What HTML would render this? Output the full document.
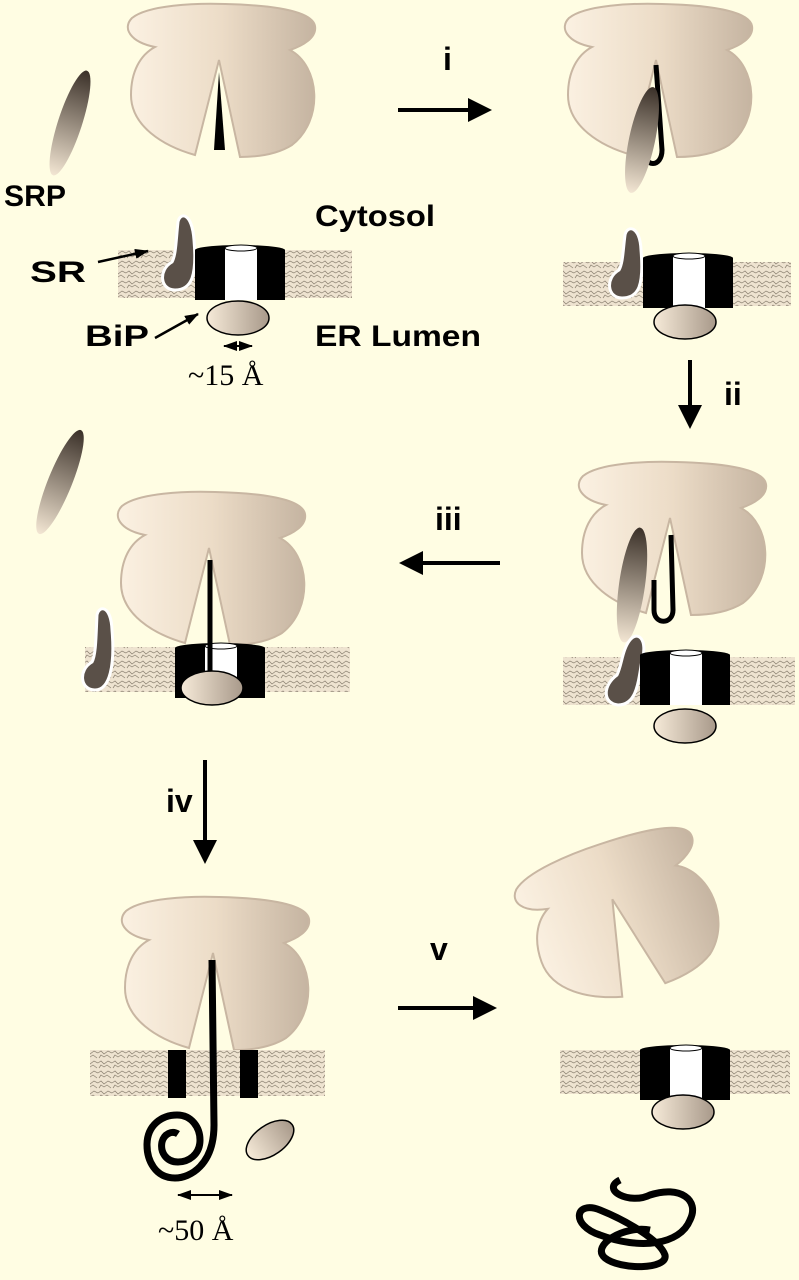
<!DOCTYPE html>
<html><head><meta charset="utf-8"><style>
html,body{margin:0;padding:0;background:#FFFDE3;}
svg{display:block;}
text{font-family:"Liberation Sans",sans-serif;font-weight:bold;fill:#000;}
.serif{font-family:"Liberation Serif",serif;font-weight:normal;}
</style></head><body>
<svg width="799" height="1280" viewBox="0 0 799 1280" xmlns="http://www.w3.org/2000/svg">
<defs>
<linearGradient id="rib" x1="0" x2="1" y1="0" y2="0"><stop offset="0" stop-color="#fbf1e2"/><stop offset="0.5" stop-color="#ecdcc7"/><stop offset="1" stop-color="#c5b4a1"/></linearGradient>
<linearGradient id="srp" x1="0" x2="1" y1="0" y2="0"><stop offset="0" stop-color="#f3e6d3"/><stop offset="1" stop-color="#3a3028"/></linearGradient>
<linearGradient id="bip" x1="0" x2="1" y1="0" y2="0"><stop offset="0" stop-color="#f6ead8"/><stop offset="1" stop-color="#a8998a"/></linearGradient>
<pattern id="mem" width="14" height="10" patternUnits="userSpaceOnUse">
<rect width="14" height="10" fill="#eee3d0"/>
<path d="M0,3 l3,-2 l3,3 l4,-3 l4,2 M1,8 l2,-3 l3,2 l3,-2 l4,3" stroke="#8a8070" stroke-width="0.7" fill="none"/>
</pattern>
<path id="ribo" d="M155,47 C130,42 122,28 132,18 C148,5 195,3 225,4 C268,5 312,10 315,26 C317,38 302,46 290,50 C320,66 324,120 292,145 C276,155 256,157 240,157 L219,60 L195,155 C163,146 131,126 131,95 C131,72 140,55 155,47 Z" fill="url(#rib)" stroke="#c8b6a2" stroke-width="2"/>
<g id="chan">
<rect x="0" y="0" width="90" height="50" fill="#000"/>
<ellipse cx="45" cy="0" rx="45" ry="5" fill="#000"/>
<rect x="30" y="-2" width="32" height="52" fill="#fff"/>
<ellipse cx="46" cy="-2" rx="16" ry="3" fill="#fff" stroke="#000" stroke-width="1"/>
</g>
<g id="bipe"><ellipse cx="0" cy="0" rx="31" ry="17" fill="url(#bip)" stroke="#000" stroke-width="1.5"/></g>
<marker id="ah" markerWidth="6" markerHeight="6" refX="5" refY="3" orient="auto" markerUnits="strokeWidth"><path d="M0,0 L6,3 L0,6 Z" fill="#000"/></marker>
<marker id="ah2" markerWidth="14" markerHeight="10" refX="13" refY="5" orient="auto-start-reverse" markerUnits="userSpaceOnUse"><path d="M0,0 L14,5 L0,10 Z" fill="#000"/></marker>
</defs>

<!-- Panel 1 -->
<use href="#ribo"/>
<path d="M219,72 L214,150 L225,150 Z" fill="#000"/>
<ellipse cx="70" cy="123" rx="55" ry="12" transform="rotate(-72 70 123)" fill="url(#srp)"/>
<rect x="118" y="250" width="234" height="48" fill="url(#mem)"/>
<path d="M178,222 C180,212 192,212 194,240 C197,275 192,290 175,290 C160,290 158,270 172,262 C176,255 176,240 178,222 Z" fill="#5a5048" stroke="#fff" stroke-width="3"/>
<use href="#chan" x="195" y="250"/>
<use href="#bipe" x="238" y="318"/>
<line x1="98" y1="262" x2="148" y2="251" stroke="#000" stroke-width="2.5" marker-end="url(#ah2)"/>
<line x1="155" y1="338" x2="198" y2="314" stroke="#000" stroke-width="2.5" marker-end="url(#ah2)"/>
<line x1="224" y1="346" x2="252" y2="346" stroke="#000" stroke-width="2" marker-end="url(#ah2)" marker-start="url(#ah2)"/>
<text x="4" y="206" font-size="30" textLength="62" lengthAdjust="spacingAndGlyphs">SRP</text>
<text x="315" y="226" font-size="30" textLength="120" lengthAdjust="spacingAndGlyphs">Cytosol</text>
<text x="30" y="282" font-size="30" textLength="56" lengthAdjust="spacingAndGlyphs">SR</text>
<text x="85" y="346" font-size="30" textLength="64" lengthAdjust="spacingAndGlyphs">BiP</text>
<text x="315" y="346" font-size="30" textLength="166" lengthAdjust="spacingAndGlyphs">ER Lumen</text>
<text x="188" y="385" font-size="30" class="serif">~15 Å</text>

<!-- arrow i -->
<text x="443" y="70" font-size="32">i</text>
<line x1="398" y1="110" x2="488" y2="110" stroke="#000" stroke-width="4" marker-end="url(#ah)"/>

<!-- Panel 2 -->
<use href="#ribo" x="437" y="0"/>
<path d="M656,65 L662,150 C662,168 644,168 644,150 L644,120" fill="none" stroke="#000" stroke-width="5"/>
<ellipse cx="642" cy="140" rx="54" ry="13" transform="rotate(-78 642 140)" fill="url(#srp)"/>
<rect x="563" y="262" width="228" height="44" fill="url(#mem)"/>
<path d="M625,235 C627,225 640,225 641,250 C644,285 639,298 622,298 C607,298 605,278 619,270 C623,263 623,250 625,235 Z" fill="#5a5048" stroke="#fff" stroke-width="3"/>
<use href="#chan" x="643" y="258"/>
<use href="#bipe" x="685" y="322"/>

<!-- arrow ii -->
<line x1="690" y1="360" x2="690" y2="425" stroke="#000" stroke-width="4" marker-end="url(#ah)"/>
<text x="724" y="405" font-size="32">ii</text>

<!-- Panel 3 -->
<use href="#ribo" x="451" y="458"/>
<path d="M671,535 L673,610 C673,625 654,625 654,610 L654,580" fill="none" stroke="#000" stroke-width="5"/>
<ellipse cx="632" cy="585" rx="58" ry="13" transform="rotate(-82 632 585)" fill="url(#srp)"/>
<rect x="563" y="657" width="232" height="48" fill="url(#mem)"/>
<path d="M630,640 C638,630 648,640 642,660 C638,685 636,705 618,705 C602,703 603,685 617,675 C622,665 622,650 630,640 Z" fill="#5a5048" stroke="#fff" stroke-width="3"/>
<use href="#chan" x="640" y="655"/>
<use href="#bipe" x="685" y="726"/>

<!-- arrow iii -->
<text x="435" y="530" font-size="32">iii</text>
<line x1="500" y1="563" x2="403" y2="563" stroke="#000" stroke-width="4" marker-end="url(#ah)"/>

<!-- Panel 4 -->
<use href="#ribo" x="-10" y="488"/>
<ellipse cx="60" cy="482" rx="56" ry="12" transform="rotate(-68 60 482)" fill="url(#srp)"/>
<rect x="85" y="647" width="265" height="45" fill="url(#mem)"/>
<path d="M97,615 C99,605 111,605 112,630 C115,665 110,690 95,690 C80,690 78,670 92,662 C96,655 96,635 97,615 Z" fill="#5a5048" stroke="#fff" stroke-width="3"/>
<use href="#chan" x="175" y="648"/>
<path d="M210,560 L210,680 C210,695 196,695 196,680 L196,660" fill="none" stroke="#000" stroke-width="5"/>
<use href="#bipe" x="212" y="688"/>

<!-- arrow iv -->
<line x1="205" y1="760" x2="205" y2="860" stroke="#000" stroke-width="4" marker-end="url(#ah)"/>
<text x="166" y="812" font-size="32">iv</text>

<!-- Panel 5 -->
<use href="#ribo" x="-6" y="893"/>
<rect x="90" y="1050" width="235" height="46" fill="url(#mem)"/>
<rect x="168" y="1050" width="18" height="48" fill="#000"/>
<rect x="240" y="1050" width="18" height="48" fill="#000"/>
<path d="M212,960 L214,1125 C214,1165 190,1178 175,1178 C155,1178 147,1160 147,1145 C147,1125 162,1115 177,1115 C192,1115 200,1128 200,1140 C200,1155 188,1162 178,1162 C166,1162 160,1152 162,1142 C164,1134 172,1130 178,1134" fill="none" stroke="#000" stroke-width="7"/>
<ellipse cx="270" cy="1140" rx="27" ry="15" transform="rotate(-35 270 1140)" fill="url(#bip)" stroke="#000" stroke-width="1.5"/>
<line x1="178" y1="1195" x2="232" y2="1195" stroke="#000" stroke-width="2" marker-end="url(#ah2)" marker-start="url(#ah2)"/>
<text x="158" y="1240" font-size="30" class="serif">~50 Å</text>

<!-- arrow v -->
<text x="430" y="960" font-size="32">v</text>
<line x1="398" y1="1008" x2="493" y2="1008" stroke="#000" stroke-width="4" marker-end="url(#ah)"/>

<!-- Panel 6 -->
<use href="#ribo" transform="translate(622,917) rotate(-20) translate(-222,-80)"/>
<rect x="560" y="1050" width="230" height="44" fill="url(#mem)"/>
<use href="#chan" x="640" y="1050"/>
<use href="#bipe" x="683" y="1112"/>
<path d="M620,1180 C600,1190 630,1205 650,1195 C680,1185 700,1200 690,1220 C680,1245 640,1250 600,1235 C570,1225 575,1200 600,1210 C625,1220 660,1240 665,1255 C668,1270 620,1270 605,1258 C590,1245 625,1225 650,1230" fill="none" stroke="#000" stroke-width="7"/>
</svg>
</body></html>
